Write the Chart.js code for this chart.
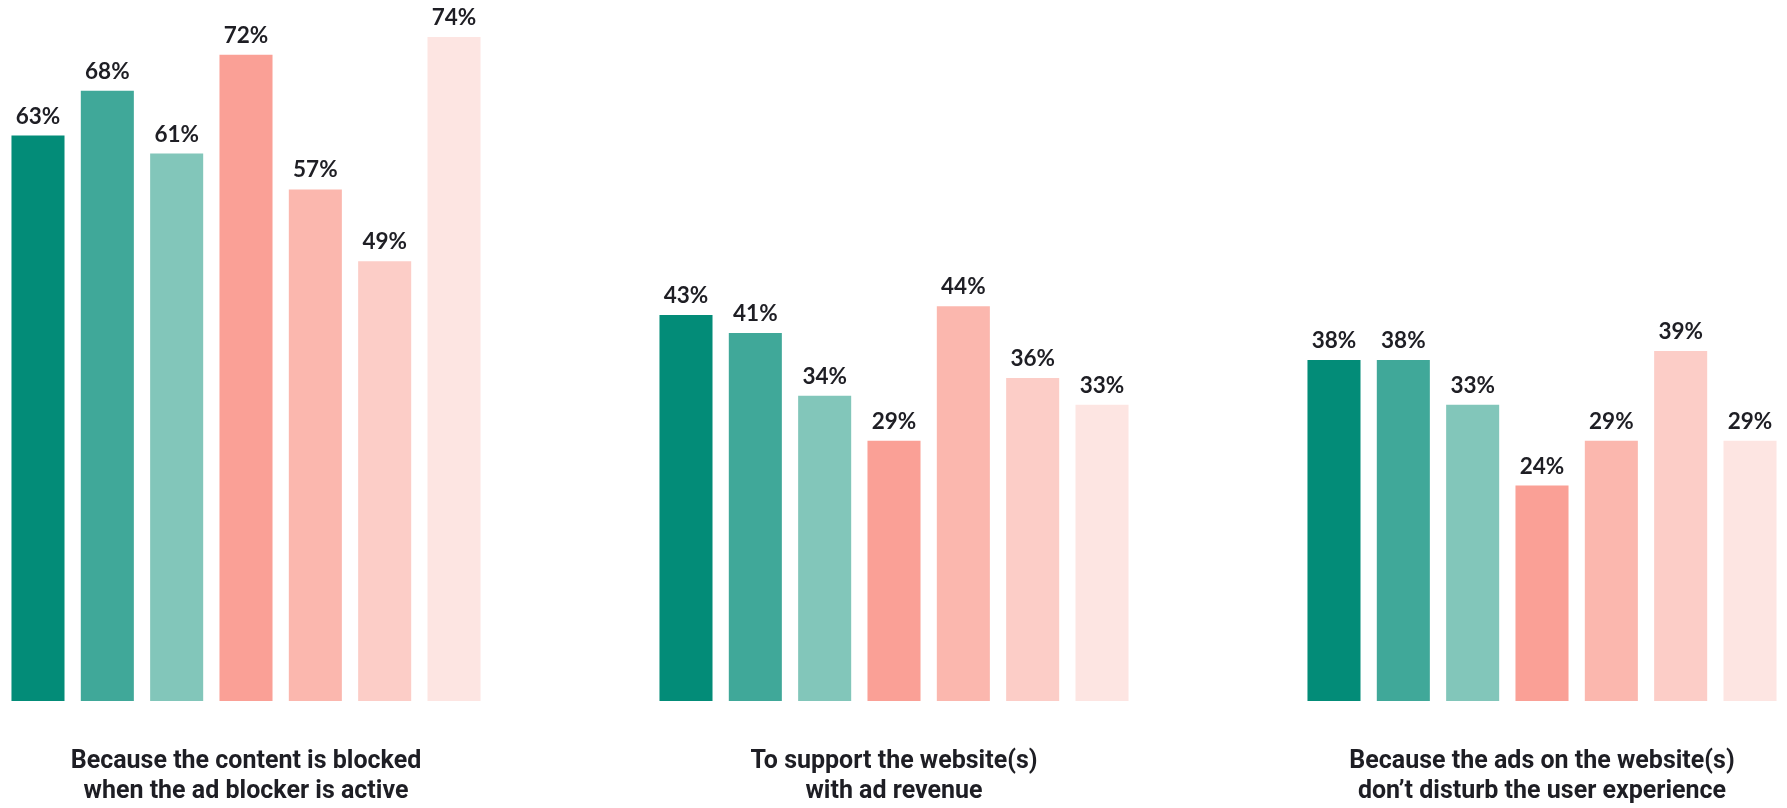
<!DOCTYPE html>
<html>
<head>
<meta charset="utf-8">
<title>Reasons for whitelisting</title>
<script src="https://cdn.jsdelivr.net/npm/chart.js@4/dist/chart.umd.min.js"></script>
<style>
  html, body { margin: 0; padding: 0; background: #fff; overflow: hidden; }
  #wrap { position: relative; width: 1787px; height: 808px; overflow: hidden; }
  #chart-0 { position: absolute; left: -78px; top: 0; }
</style>
</head>
<body>
<div id="wrap">
  <canvas id="chart-0" width="1944" height="808"></canvas>
</div>
<script>
// categories (x axis)
var categories = [
    ["Because the content is blocked", "when the ad blocker is active"],
    ["To support the website(s)", "with ad revenue"],
    ["Because the ads on the website(s)", "don\u2019t disturb the user experience"]
];

// one array per bar colour, values in %
var series1 = [63, 43, 38];
var series2 = [68, 41, 38];
var series3 = [61, 34, 33];
var series4 = [72, 29, 24];
var series5 = [57, 44, 29];
var series6 = [49, 36, 39];
var series7 = [74, 33, 29];

var colors = ['#038c78', '#40a899', '#82c6ba', '#faa096', '#fbb7ae', '#fccdc7', '#fde5e2'];

// draws the "63%" labels over each bar
var valueLabels = {
    id: 'valueLabels',
    afterDatasetsDraw: function (chart) {
        var ctx = chart.ctx;
        ctx.save();
        ctx.font = 'bold 22.5px Lato';
        ctx.fillStyle = '#1e1e24';
        ctx.textAlign = 'center';
        ctx.textBaseline = 'alphabetic';
        chart.data.datasets.forEach(function (ds, i) {
            var meta = chart.getDatasetMeta(i);
            meta.data.forEach(function (bar, j) {
                ctx.fillText(ds.data[j] + '%', bar.x, bar.y - 12);
            });
        });
        ctx.restore();
    }
};

var allSeries = [series1, series2, series3, series4, series5, series6, series7];
var datasets = [];
for (let i = 0; i < allSeries.length; i++) {
    datasets.push({
        label: 'Series ' + (i + 1),
        data: allSeries[i],
        backgroundColor: colors[i],
        borderWidth: 0,
        categoryPercentage: 0.749,
        barPercentage: 0.765
    });
}

var ctx = document.getElementById("chart-0");
var myChart = new Chart(ctx, {
    type: "bar",
    data: {
        labels: categories,
        datasets: datasets
    },
    options: {
        responsive: false,
        animation: false,
        layout: { padding: { top: 1, left: 0, right: 0, bottom: 0 } },
        plugins: {
            legend: { display: false },
            tooltip: { enabled: false }
        },
        scales: {
            x: {
                grid: { display: false, drawTicks: false },
                border: { display: false },
                ticks: {
                    color: '#1e1e24',
                    padding: 46,
                    font: { family: "Roboto", weight: 'bold', size: 25, lineHeight: 1.18 }
                },
                afterFit: function (scale) { scale.height = 107; }
            },
            y: {
                display: false,
                min: 0,
                max: 78
            }
        }
    },
    plugins: [valueLabels]
});
</script>
</body>
</html>
